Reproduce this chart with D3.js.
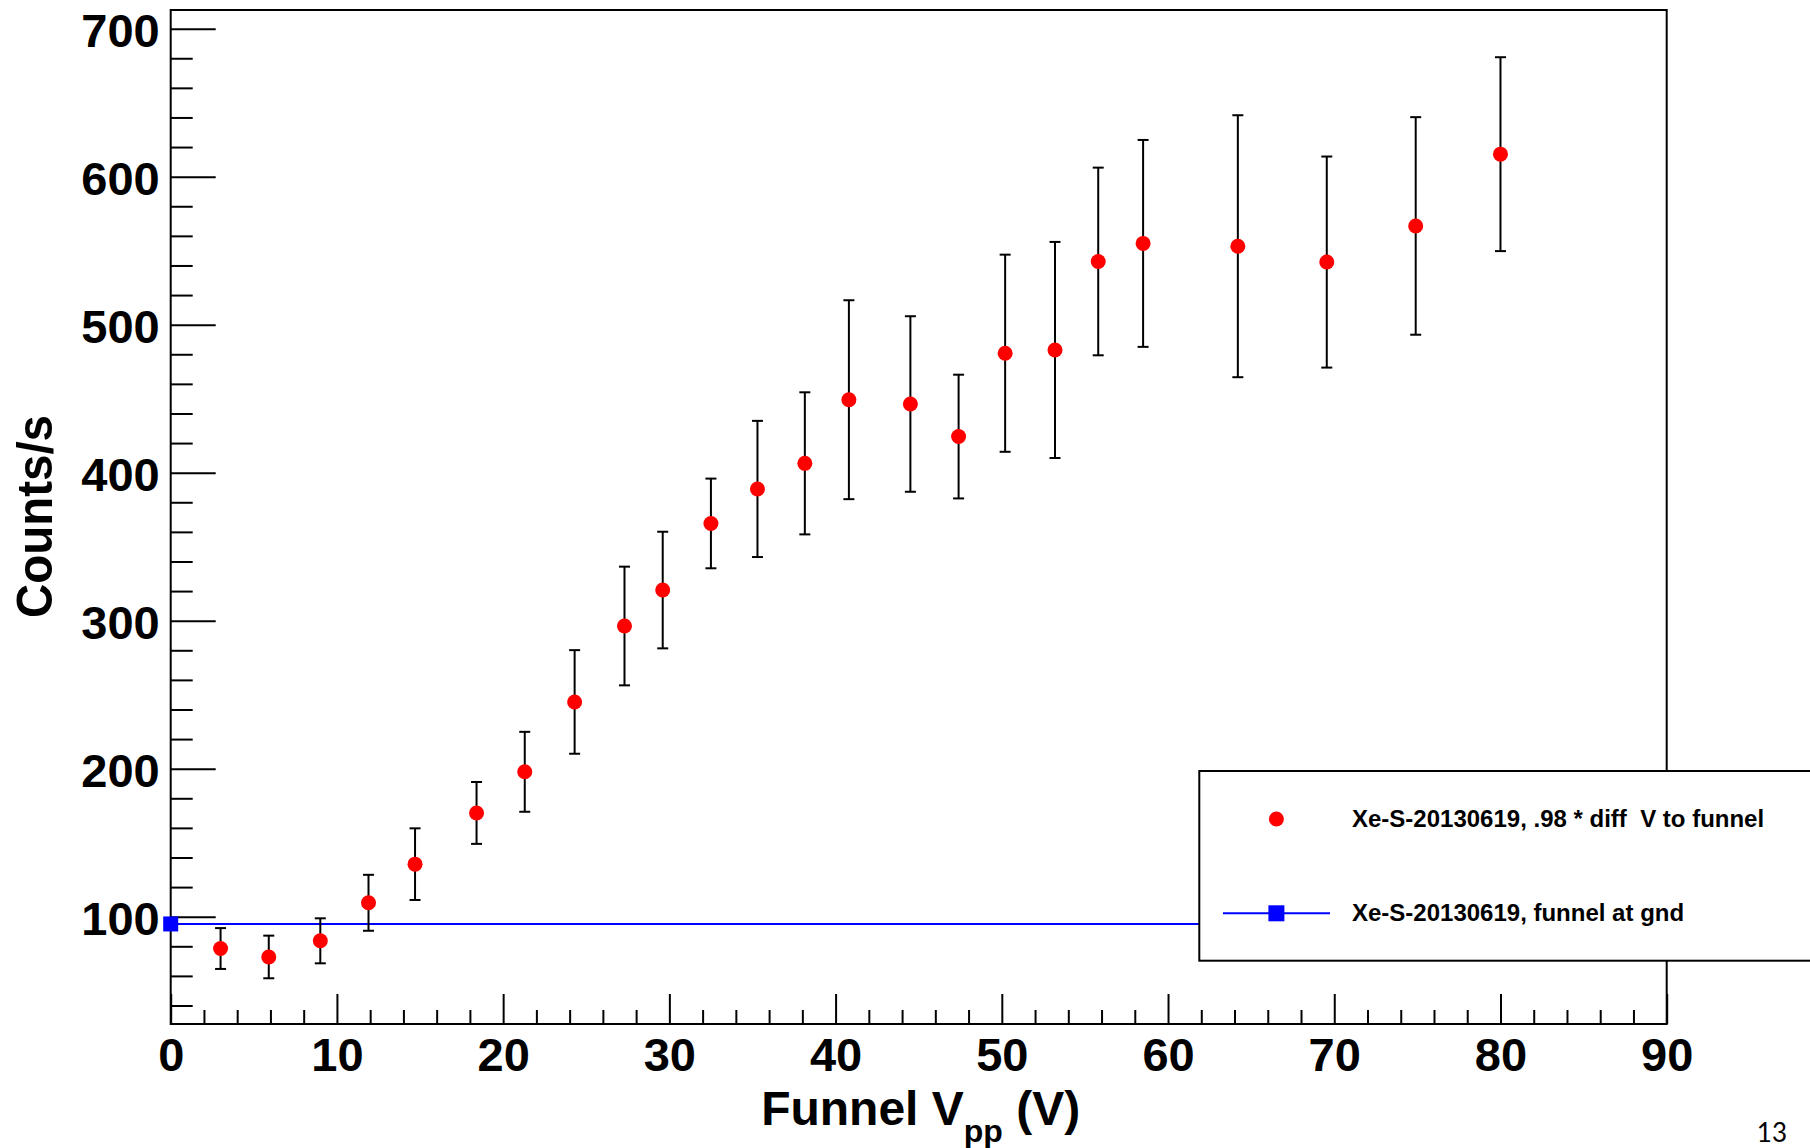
<!DOCTYPE html>
<html>
<head>
<meta charset="utf-8">
<script src="https://cdn.jsdelivr.net/npm/d3@7"></script>
<style>
  html, body { margin: 0; padding: 0; background: #fff; }
  svg { display: block; }
  text { font-family: "Liberation Sans", Arial, Helvetica, sans-serif; font-weight: bold; fill: #000; }
</style>
</head>
<body>
<svg id="chart" width="1810" height="1148"></svg>
<script>
// Funnel peak-to-peak voltage (V)
const funnelVpp = [3.0, 5.9, 9.0, 11.9, 14.7, 18.4, 21.3, 24.3, 27.3, 29.6, 32.5, 35.3,
                   38.15, 40.8, 44.5, 47.4, 50.2, 53.2, 55.8, 58.5, 64.2, 69.55, 74.9, 80.0];
// Count rate (counts/s) with .98 * diff V applied to the funnel
const countRate = [78.5, 72.8, 83.7, 109.4, 135.5, 170.1, 197.9, 245.1, 296.4, 320.7, 365.7, 389.0,
                   406.3, 449.3, 446.4, 424.4, 480.7, 482.9, 542.7, 554.9, 553.0, 542.3, 566.7, 615.2];
// Symmetric uncertainty on the count rate
const countErr = [13.8, 14.4, 15.2, 18.9, 24.2, 20.9, 27.0, 35.0, 40.1, 39.4, 30.3, 46.0,
                  48.0, 67.2, 59.3, 41.8, 66.6, 73.0, 63.4, 69.9, 88.5, 71.3, 73.5, 65.5];
// Reference run with the funnel grounded
const gndVpp = [0];
const gndRate = [95.1];
const gndSpan = [0, 90];

// Axis ranges and ticks
const xDomain = [0, 90];
const yDomain = [27.5, 712.6];
const xMajorTicks = [0, 10, 20, 30, 40, 50, 60, 70, 80, 90];
const yMajorTicks = [100, 200, 300, 400, 500, 600, 700];

const legendLabels = ["Xe-S-20130619, .98 * diff  V to funnel", "Xe-S-20130619, funnel at gnd"];

const svg = d3.select("#chart");
const plotLeft = 170.7, plotRight = 1666.7, plotTop = 10, plotBottom = 1024;

const x = d3.scaleLinear().domain(xDomain).range([plotLeft, plotRight]);
const y = d3.scaleLinear().domain(yDomain).range([plotBottom, plotTop]);

const xMinor = d3.range(0, 91, 2).filter(v => v % 10 !== 0);
const yMinor = d3.range(40, 701, 20).filter(v => v % 100 !== 0);

function styleTicks(g) {
  g.select(".domain").remove();
  g.selectAll(".tick line").attr("stroke", "#000").attr("stroke-width", 2);
}

// x-axis ticks (pointing into the frame)
svg.append("g").attr("transform", `translate(0,${plotBottom})`)
  .call(d3.axisTop(x).tickValues(xMajorTicks).tickSize(30).tickFormat(""))
  .call(styleTicks);
svg.append("g").attr("transform", `translate(0,${plotBottom})`)
  .call(d3.axisTop(x).tickValues(xMinor).tickSize(14).tickFormat(""))
  .call(styleTicks);
const xLab = svg.append("g").attr("transform", `translate(0,${plotBottom})`)
  .call(d3.axisBottom(x).tickValues(xMajorTicks).tickSize(0).tickPadding(14).tickFormat(d3.format("d")));
xLab.select(".domain").remove();
xLab.attr("font-family", null).attr("font-size", null);
xLab.selectAll("text").attr("font-size", 47).style("font-weight", "bold").attr("fill", "#000");

// y-axis ticks (pointing into the frame)
svg.append("g").attr("transform", `translate(${plotLeft},0)`)
  .call(d3.axisRight(y).tickValues(yMajorTicks).tickSize(45).tickFormat(""))
  .call(styleTicks);
svg.append("g").attr("transform", `translate(${plotLeft},0)`)
  .call(d3.axisRight(y).tickValues(yMinor).tickSize(22).tickFormat(""))
  .call(styleTicks);
const yLab = svg.append("g").attr("transform", `translate(${plotLeft},0)`)
  .call(d3.axisLeft(y).tickValues(yMajorTicks).tickSize(0).tickPadding(11).tickFormat(d3.format("d")));
yLab.select(".domain").remove();
yLab.attr("font-family", null).attr("font-size", null);
yLab.selectAll("text").attr("font-size", 47).attr("dy", "0.38em").style("font-weight", "bold").attr("fill", "#000");

// frame
svg.append("rect")
  .attr("x", plotLeft).attr("y", plotTop).attr("width", plotRight - plotLeft).attr("height", plotBottom - plotTop)
  .attr("fill", "none").attr("stroke", "#000").attr("stroke-width", 2);

// axis titles
const xt = svg.append("text").attr("x", (plotLeft + plotRight) / 2 + 2).attr("y", 1125)
  .attr("text-anchor", "middle").attr("font-size", 48);
xt.append("tspan").text("Funnel V");
xt.append("tspan").attr("font-size", 32).attr("dy", 17).text("pp");
xt.append("tspan").attr("dy", -17).text(" (V)");

svg.append("text")
  .attr("transform", "translate(52,516.5) rotate(-90)")
  .attr("text-anchor", "middle").attr("font-size", 50)
  .attr("textLength", 203).attr("lengthAdjust", "spacingAndGlyphs")
  .text("Counts/s");

// grounded-funnel reference line and marker
const gndLine = d3.line().x(d => x(d)).y(() => y(gndRate[0]));
svg.append("path").attr("d", gndLine(gndSpan))
  .attr("fill", "none").attr("stroke", "#0000ff").attr("stroke-width", 2);
svg.selectAll("rect.gnd").data(gndVpp).join("rect").attr("class", "gnd")
  .attr("x", d => x(d) - 7.5).attr("y", (d, i) => y(gndRate[i]) - 7.5)
  .attr("width", 15).attr("height", 15).attr("fill", "#0000ff");

// error bars
const pts = funnelVpp.map((v, i) => ({ v, r: countRate[i], e: countErr[i] }));
const eb = svg.append("g").attr("stroke", "#000").attr("stroke-width", 2);
eb.selectAll("line.bar").data(pts).join("line").attr("class", "bar")
  .attr("x1", d => x(d.v)).attr("x2", d => x(d.v))
  .attr("y1", d => y(d.r + d.e)).attr("y2", d => y(d.r - d.e));
eb.selectAll("line.capHi").data(pts).join("line").attr("class", "capHi")
  .attr("x1", d => x(d.v) - 5.5).attr("x2", d => x(d.v) + 5.5)
  .attr("y1", d => y(d.r + d.e)).attr("y2", d => y(d.r + d.e));
eb.selectAll("line.capLo").data(pts).join("line").attr("class", "capLo")
  .attr("x1", d => x(d.v) - 5.5).attr("x2", d => x(d.v) + 5.5)
  .attr("y1", d => y(d.r - d.e)).attr("y2", d => y(d.r - d.e));

// markers
svg.selectAll("circle.pt").data(pts).join("circle").attr("class", "pt")
  .attr("cx", d => x(d.v)).attr("cy", d => y(d.r)).attr("r", 7.5).attr("fill", "#ff0000");

// legend
const lg = svg.append("g");
lg.append("rect").attr("x", 1199.3).attr("y", 771).attr("width", 700).attr("height", 189.7)
  .attr("fill", "#fff").attr("stroke", "#000").attr("stroke-width", 2);
lg.append("circle").attr("cx", 1276.4).attr("cy", 819).attr("r", 7.5).attr("fill", "#ff0000");
lg.append("line").attr("x1", 1223).attr("x2", 1330).attr("y1", 913.3).attr("y2", 913.3)
  .attr("stroke", "#0000ff").attr("stroke-width", 2);
lg.append("rect").attr("x", 1276.4 - 8).attr("y", 913.3 - 8).attr("width", 16).attr("height", 16)
  .attr("fill", "#0000ff");
lg.selectAll("text").data(legendLabels).join("text")
  .attr("x", 1352).attr("y", (d, i) => [826.7, 920.7][i])
  .attr("font-size", 24).style("white-space", "pre")
  .text(d => d);

// slide number
svg.append("text").attr("x", 1787).attr("y", 1141.7).attr("text-anchor", "end")
  .attr("font-size", 26).style("font-weight", "normal").style("font-family", "Lato, 'Open Sans', sans-serif")
  .text("13");
</script>
</body>
</html>
